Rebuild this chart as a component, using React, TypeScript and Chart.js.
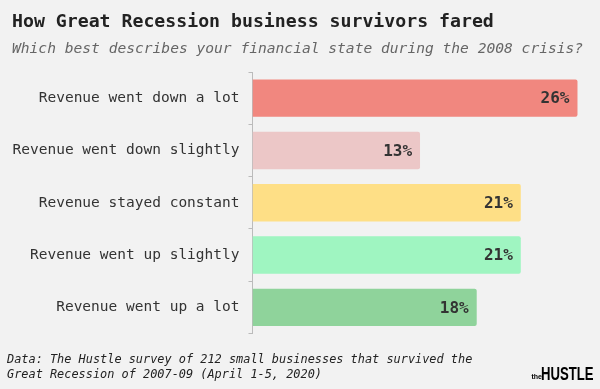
import React, { useEffect, useRef } from "react";
import { Chart, registerables } from "chart.js";

Chart.register(...registerables);

const categories = [
  "Revenue went down a lot",
  "Revenue went down slightly",
  "Revenue stayed constant",
  "Revenue went up slightly",
  "Revenue went up a lot",
];
const shares = [25.8, 13.3, 21.3, 21.3, 17.8];
const barColors = ["#F1877F", "#ECC7C7", "#FEDF86", "#9FF5C1", "#8FD39B"];

const titleText = "How Great Recession business survivors fared";
const subtitleText = "Which best describes your financial state during the 2008 crisis?";
const footerLines = [
  "Data: The Hustle survey of 212 small businesses that survived the",
  "Great Recession of 2007-09 (April 1-5, 2020)",
];

const MONO = "'DejaVu Sans Mono', monospace";

const decorPlugin = {
  id: "decor",
  beforeDraw(chart: any) {
    const ctx = chart.ctx;
    ctx.save();
    ctx.fillStyle = "#F2F2F2";
    ctx.fillRect(0, 0, chart.width, chart.height);
    ctx.restore();
  },
  afterDraw(chart: any) {
    const ctx = chart.ctx;
    ctx.save();
    ctx.textBaseline = "middle";
    ctx.textAlign = "left";
    ctx.fillStyle = "#222222";
    ctx.font = `bold 18.2px ${MONO}`;
    ctx.fillText(titleText, 12, 22.5);
    ctx.fillStyle = "#666666";
    ctx.font = `italic 14.6px ${MONO}`;
    ctx.fillText(subtitleText, 12, 49);
    ctx.fillStyle = "#222222";
    ctx.font = `italic 11.9px ${MONO}`;
    ctx.fillText(footerLines[0], 7, 360);
    ctx.fillText(footerLines[1], 7, 375);
    // logo
    ctx.fillStyle = "#000000";
    ctx.font = "bold 7px 'Liberation Sans', sans-serif";
    ctx.fillText("the", 531.5, 377);
    ctx.save();
    ctx.translate(541, 375);
    ctx.scale(0.73, 1);
    ctx.font = "bold 18px 'Liberation Sans', sans-serif";
    ctx.fillText("HUSTLE", 0, 0);
    ctx.restore();
    ctx.restore();
  },
  afterDatasetsDraw(chart: any) {
    const ctx = chart.ctx;
    const meta = chart.getDatasetMeta(0);
    ctx.save();
    ctx.font = `bold 16px ${MONO}`;
    ctx.fillStyle = "#333333";
    ctx.textAlign = "right";
    ctx.textBaseline = "middle";
    meta.data.forEach((bar: any, i: number) => {
      ctx.fillText(`${Math.round(shares[i])}%`, bar.x - 8, bar.y + 1);
    });
    ctx.restore();
  },
};

export default function App() {
  const ref = useRef<HTMLCanvasElement>(null);
  useEffect(() => {
    document.body.style.margin = "0";
    const chart = new Chart(ref.current!, {
      type: "bar",
      data: {
        labels: categories,
        datasets: [
          {
            data: shares,
            backgroundColor: barColors,
            borderRadius: 2,
            borderSkipped: "start",
            categoryPercentage: 1,
            barPercentage: 0.715,
          },
        ],
      },
      options: {
        indexAxis: "y",
        animation: false,
        responsive: false,
        layout: { padding: { top: 72, bottom: 55.5, left: 0, right: 20 } },
        plugins: {
          legend: { display: false },
          tooltip: { enabled: false },
        },
        scales: {
          x: { display: false, min: 0, max: 26 },
          y: {
            afterFit: (scale: any) => {
              scale.width = 252.5;
            },
            grid: {
              offset: true,
              drawOnChartArea: false,
              drawTicks: true,
              tickLength: 4,
              color: "#BBBBBB",
            },
            border: { display: true, color: "#BBBBBB" },
            ticks: {
              padding: 9,
              color: "#333333",
              font: { family: MONO, size: 14.5 },
            },
          },
        },
      },
      plugins: [decorPlugin],
    });
    return () => chart.destroy();
  }, []);
  return <canvas ref={ref} width={600} height={389} style={{ display: "block" }} />;
}
